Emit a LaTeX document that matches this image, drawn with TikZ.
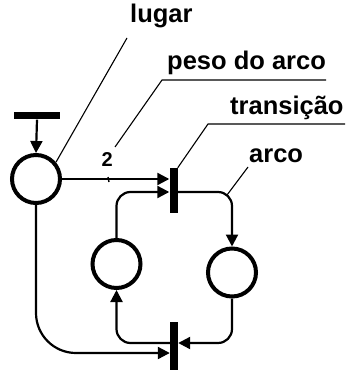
\documentclass[tikz,border=0pt]{standalone}
\usepackage{fontspec}
\setmainfont{Liberation Sans}
\usetikzlibrary{arrows.meta}
\begin{document}
\begin{tikzpicture}[x=1pt,y=-1pt,
  place/.style={circle,draw,line width=4pt,minimum size=48pt,inner sep=0pt},
  bar/.style={rectangle,fill=black,draw=none,inner sep=0pt},
  arc/.style={line width=2.2pt,-{Triangle[length=12pt,width=12pt]}},
  flow/.style={line width=2.2pt},
  leader/.style={line width=1.1pt},
  label/.style={font=\bfseries\fontsize{25.5}{30}\selectfont,inner sep=0pt,anchor=base west}]
\useasboundingbox (0,0) rectangle (345,371);

% places
\node[place] (p0) at (36,179) {};
\node[place] (p1) at (116.5,264) {};
\node[place] (p2) at (232,272.5) {};

% transitions
\node[bar,minimum width=46pt,minimum height=7pt] (t0) at (37,116) {};
\node[bar,minimum width=8pt,minimum height=45pt] (t1) at (173.5,190.5) {};
\node[bar,minimum width=8pt,minimum height=48pt] (t2) at (174,346) {};

% arcs
\draw[arc] (t0.south) -- (p0.north);
\draw[arc] (p0.east) -- (p0.east -| t1.west);
\draw[arc,rounded corners=14pt] (p1.north) |- ([yshift=-1.5pt]t1.west);
\draw[arc,rounded corners=14pt] ([yshift=-1.5pt]t1.east) -| (p2.north);
\draw[arc,rounded corners=14pt] (p2.south) |- ([yshift=3pt]t2.east);
\draw[arc,rounded corners=14pt] ([yshift=3pt]t2.west) -| (p1.south);
\draw[arc,rounded corners=40pt] (p0.south) |- ([yshift=-7pt]t2.west);

% arc weight
\node[font=\bfseries\fontsize{20}{24}\selectfont,inner sep=0pt,anchor=base west] (w) at (101.5,167) {2};
\coordinate (wtick) at (108,177);
\draw[line width=1.4pt] (wtick) -- ++(1,5);

% labels with leader lines
\node[label] (lugar) at (130,23) {lugar};
\coordinate (lugarend) at (127,38);
\draw[leader] (lugarend) -- (p0.40);

\node[label] (peso) at (167,70) {peso do arco};
\coordinate (pesoul) at (162,80);
\coordinate (pesoend) at (115,147);
\draw[leader] (pesoend) -- (pesoul) -- (pesoul -| peso.east);

\node[label] (trans) at (230,115) {transição};
\coordinate (transul) at (208,124);
\draw[leader] (t1.north east) -- (transul) -- (345,124);

\node[label] (arco) at (249,163) {arco};
\coordinate (arcostart) at (248,167);
\coordinate (arcoend) at (227,195);
\draw[leader] (arcostart) -- (arcoend);
\end{tikzpicture}
\end{document}
